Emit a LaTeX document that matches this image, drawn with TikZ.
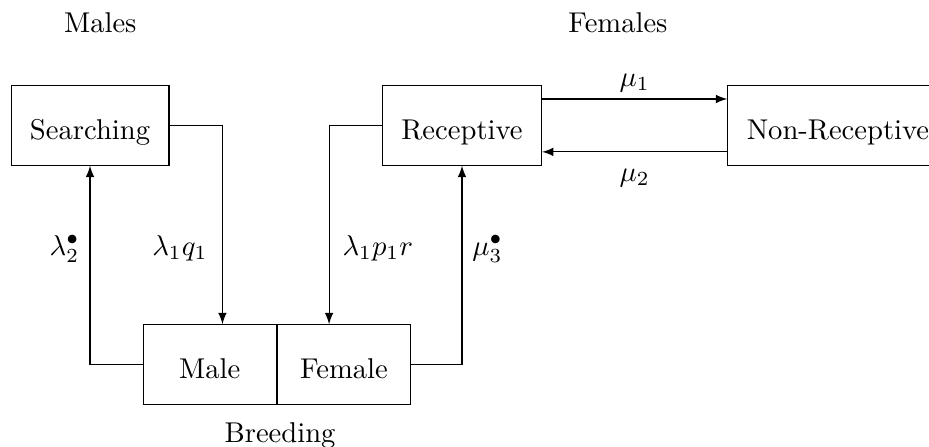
\documentclass[tikz,border=0pt]{standalone}
\usepackage{amsmath, amsfonts}
\usetikzlibrary{positioning}

\tikzset{
  state/.style={draw, inner xsep=6.6pt, minimum height=0.975cm, text height=10pt, text depth=0pt},
  half/.style={state, minimum width=1.634cm},
  rate/.style={inner sep=0pt},
  flow/.style={-latex},
}

\begin{document}
\begin{tikzpicture}

\useasboundingbox (0,0) rectangle (11.413,-5.491);

\node[anchor=base] (males) at (1.232,-0.402) {Males};
\node[anchor=base] (females) at (7.592,-0.402) {Females};

\node[half] (male) at (2.577,-4.478) {Male};
\node[half, right=0pt of male] (female) {Female};
\node[anchor=base] (breeding) at (3.440,-5.442) {Breeding};

\node[state] (searching) at (1.106,-1.541) {Searching};
\node[state] (receptive) at (5.676,-1.541) {Receptive};
\node[state, anchor=west] (nonrec) at (8.935,-1.541) {Non-Receptive};

\draw[flow] (searching.east) -- ++(0.65,0) coordinate (sq) -- (sq |- male.north);
\draw[flow] (receptive.west) -- ++(-0.65,0) coordinate (rp) -- (rp |- female.north);
\draw[flow] (male.west) -| (searching.south);
\draw[flow] (female.east) -| (receptive.south);

\draw[flow] ([yshift=0.325cm]receptive.east) -- ([yshift=0.325cm]nonrec.west) node[midway, above=-1pt] (mu1) {$\mu_1$};
\draw[flow] ([yshift=-0.325cm]nonrec.west) -- ([yshift=-0.325cm]receptive.east) node[midway, below=2.5pt] (mu2) {$\mu_2$};

\node[rate, anchor=base east] (lam2) at (0.983,-3.133) {$\lambda_2^\bullet$};
\node[rate, anchor=base east] (lamq) at (2.555,-3.133) {$\lambda_1 q_1$};
\node[rate, anchor=base west] (lamp) at (4.201,-3.133) {$\lambda_1 p_1 r$};
\node[rate, anchor=base west] (mu3) at (5.795,-3.133) {$\mu_3^\bullet$};

\end{tikzpicture}
\end{document}
